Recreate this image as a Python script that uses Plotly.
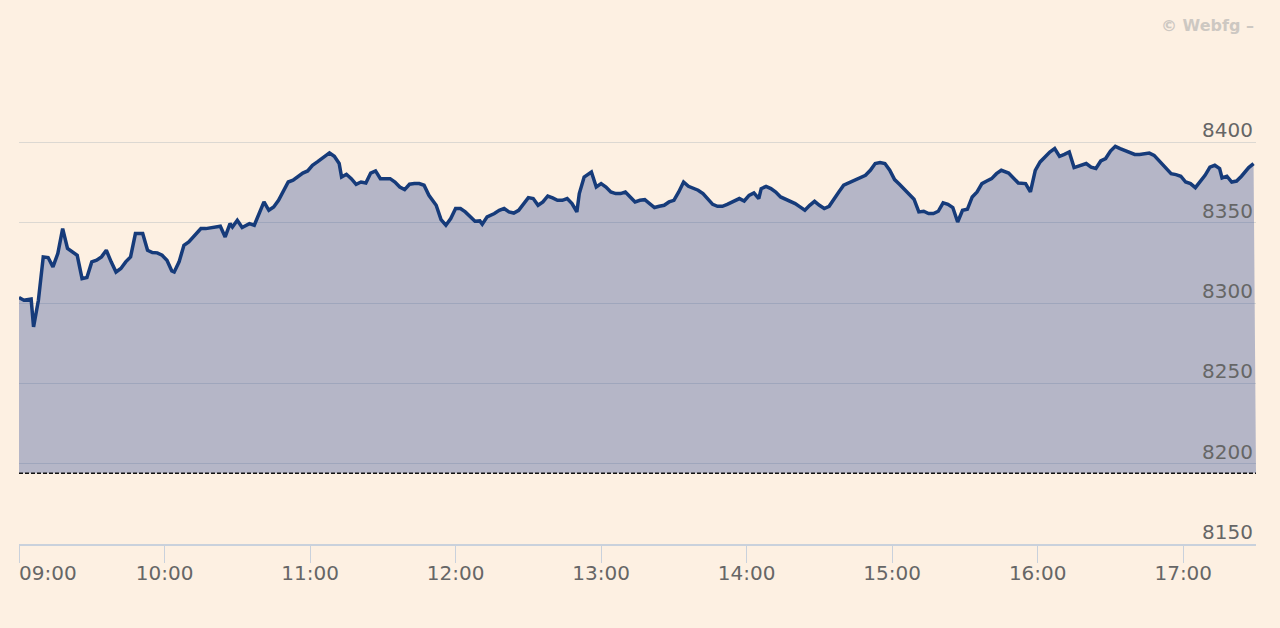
import pandas as pd
import plotly.graph_objects as go

# Session date (arbitrary) and market open
session_start = "2024-01-02 09:00"
session_end = "2024-01-02 17:30"

# Minutes after 09:00 and index level
minutes = [
    0, 2, 5, 6, 8, 10, 12, 14, 16, 18,
    20, 22, 24, 26, 28, 30, 32, 34, 36, 38,
    40, 42, 44, 46, 48, 51, 53, 55, 57, 59,
    61, 63, 64, 66, 68, 70, 73, 75, 77, 80,
    83, 85, 87, 88, 90, 92, 95, 97, 99, 101,
    103, 105, 107, 109, 111, 113, 115, 117, 119, 121,
    123, 125, 128, 130, 132, 133, 135, 137, 139, 141,
    143, 145, 147, 149, 151, 153, 155, 157, 159, 161,
    163, 165, 167, 169, 172, 174, 176, 178, 180, 182,
    184, 186, 188, 190, 191, 193, 196, 198, 200, 202,
    204, 206, 208, 210, 212, 214, 216, 218, 220, 222,
    224, 226, 228, 230, 231, 233, 236, 238, 240, 242,
    244, 246, 248, 250, 252, 254, 256, 258, 260, 262,
    264, 266, 268, 270, 272, 274, 276, 278, 280, 282,
    284, 286, 288, 290, 292, 295, 297, 299, 301, 303,
    305, 306, 308, 310, 312, 314, 316, 318, 320, 322,
    324, 326, 328, 330, 332, 334, 336, 338, 340, 342,
    344, 347, 349, 351, 353, 355, 357, 359, 361, 363,
    365, 367, 369, 371, 373, 375, 377, 379, 381, 383,
    385, 387, 389, 391, 393, 395, 397, 399, 401, 403,
    405, 408, 410, 412, 415, 417, 419, 421, 423, 425,
    427, 429, 431, 433, 435, 438, 440, 442, 444, 446,
    448, 450, 452, 454, 456, 458, 460, 462, 464, 466,
    468, 470, 473, 475, 477, 479, 481, 483, 485, 487,
    489, 491, 493, 495, 496, 498, 500, 502, 504, 507,
    509,
]
values = [
    8303.4, 8301.7, 8302.4, 8285.1, 8301.7, 8328.7, 8328.3, 8322.5, 8330.8, 8346.3,
    8333.9, 8331.8, 8329.7, 8315.2, 8315.9, 8325.6, 8326.6, 8328.7, 8332.8, 8325.6,
    8319.3, 8321.5, 8325.6, 8328.7, 8343.2, 8343.2, 8332.8, 8331.4, 8331.2, 8329.7,
    8326.6, 8320.0, 8319.3, 8325.6, 8335.9, 8338.0, 8343.2, 8346.3, 8346.3, 8347.3,
    8347.8, 8341.1, 8349.4, 8347.3, 8351.5, 8347.0, 8349.4, 8348.4, 8355.7, 8362.9,
    8357.7, 8359.8, 8363.9, 8370.2, 8375.3, 8376.4, 8378.4, 8380.9, 8382.2, 8385.7,
    8387.8, 8389.9, 8393.4, 8391.3, 8386.8, 8378.4, 8380.1, 8377.4, 8373.9, 8375.3,
    8374.7, 8380.9, 8382.2, 8377.4, 8377.4, 8377.4, 8375.3, 8372.2, 8370.6, 8373.9,
    8374.3, 8374.3, 8373.3, 8367.0, 8360.8, 8351.9, 8348.4, 8352.6, 8358.8, 8358.8,
    8356.7, 8353.6, 8350.9, 8351.1, 8349.0, 8353.6, 8355.7, 8357.7, 8358.8, 8356.7,
    8356.0, 8357.7, 8361.9, 8365.6, 8365.0, 8360.8, 8362.9, 8366.6, 8365.4, 8363.9,
    8363.9, 8365.0, 8361.9, 8356.7, 8368.1, 8378.4, 8381.5, 8372.2, 8374.3, 8372.2,
    8369.1, 8368.1, 8368.1, 8369.1, 8366.0, 8362.9, 8363.9, 8364.3, 8361.9, 8359.4,
    8360.2, 8360.8, 8362.9, 8363.9, 8369.1, 8375.3, 8372.6, 8371.2, 8370.2, 8368.1,
    8365.0, 8361.4, 8360.2, 8360.2, 8361.4, 8363.9, 8365.0, 8363.5, 8367.0, 8368.5,
    8365.0, 8371.2, 8372.6, 8371.2, 8369.1, 8366.0, 8364.6, 8363.5, 8361.9, 8359.8,
    8357.7, 8360.8, 8363.3, 8360.8, 8358.8, 8360.2, 8365.0, 8369.1, 8373.3, 8374.7,
    8375.7, 8377.8, 8379.5, 8382.6, 8386.8, 8387.4, 8386.8, 8382.6, 8376.8, 8373.9,
    8370.6, 8367.5, 8364.6, 8356.7, 8357.1, 8355.7, 8355.7, 8357.1, 8362.3, 8361.4,
    8359.4, 8350.4, 8357.7, 8358.3, 8366.0, 8369.1, 8374.3, 8375.9, 8377.4, 8380.5,
    8382.6, 8380.9, 8377.4, 8374.7, 8374.3, 8369.1, 8382.6, 8387.8, 8390.9, 8394.0,
    8396.1, 8391.3, 8392.5, 8394.0, 8384.3, 8385.7, 8386.8, 8384.6, 8383.7, 8388.4,
    8389.9, 8394.6, 8397.5, 8396.1, 8395.0, 8394.0, 8392.5, 8392.5, 8393.0, 8393.3,
    8391.9, 8388.8, 8383.7, 8380.5, 8379.9, 8378.9, 8375.3, 8374.3, 8371.8, 8375.3,
    8379.5, 8384.6, 8385.7, 8383.7, 8377.8, 8378.9, 8375.3, 8375.9, 8378.9, 8384.3,
    8386.8,
]
previous_close = 8194.0

y_ticks = [8150, 8200, 8250, 8300, 8350, 8400, 8450]
y_ticktext = ["8150", "8200", "8250", "8300", "8350", "8400", ""]
x_hours = ["09:00", "10:00", "11:00", "12:00", "13:00", "14:00", "15:00", "16:00", "17:00"]

BG = "#fdf0e2"
FONT = "DejaVu Sans"

times = pd.Timestamp(session_start) + pd.to_timedelta(minutes, unit="m")
hour_ticks = [pd.Timestamp("2024-01-02 " + h) for h in x_hours]
hour_text = [""] + x_hours[1:]

fig = go.Figure()
fig.add_trace(go.Scatter(
    x=[pd.Timestamp(session_start), pd.Timestamp(session_end)],
    y=[previous_close, previous_close],
    mode="lines",
    line=dict(color="#111111", width=1.6, dash="4px,2px"),
    hoverinfo="skip",
    showlegend=False,
))
fig.add_trace(go.Scatter(
    x=times, y=values,
    mode="lines",
    line=dict(color="#163b7a", width=3.5),
    fill="tonexty",
    fillcolor="rgba(22,55,140,0.31)",
    showlegend=False,
))

fig.update_layout(
    width=1280, height=628,
    paper_bgcolor=BG, plot_bgcolor=BG,
    margin=dict(l=19, r=24, t=62, b=84),
    font=dict(family=FONT, size=20, color="#666666"),
    xaxis=dict(
        type="date",
        range=[pd.Timestamp(session_start), pd.Timestamp(session_end)],
        tickmode="array", tickvals=hour_ticks, ticktext=hour_text,
        showgrid=False, zeroline=False,
        showline=True, linecolor="#c9d1dc", linewidth=1.5,
        ticks="outside", ticklen=17, tickcolor="#c9d1dc", tickwidth=1.2,
        ticklabelstandoff=-7,
        tickfont=dict(family=FONT, size=20, color="#666666"),
    ),
    yaxis=dict(
        range=[8150, 8450],
        tickmode="array", tickvals=y_ticks, ticktext=y_ticktext,
        side="right", ticklabelposition="inside",
        ticklabelshift=-12,
        showgrid=True, gridcolor="#dcd8d2", gridwidth=1.2,
        zeroline=False, showline=False, ticks="",
        tickfont=dict(family=FONT, size=20, color="#666666"),
    ),
    annotations=[
        dict(
            x=hour_ticks[0], xref="x", y=0, yref="paper",
            text=x_hours[0], showarrow=False,
            xanchor="left", yanchor="middle", yshift=-29, xshift=-2,
            font=dict(family=FONT, size=20, color="#666666"),
        ),
        dict(
            x=1, xref="paper", y=1, yref="paper",
            text="<b>© Webfg –</b>", showarrow=False,
            xanchor="right", yanchor="middle", yshift=37,
            font=dict(family=FONT, size=16, color="#cdc8c2"),
        ),
    ],
)

fig.write_html(
    "out.html",
    config={"displayModeBar": False},
    post_script="document.body.style.margin='0px';",
)
